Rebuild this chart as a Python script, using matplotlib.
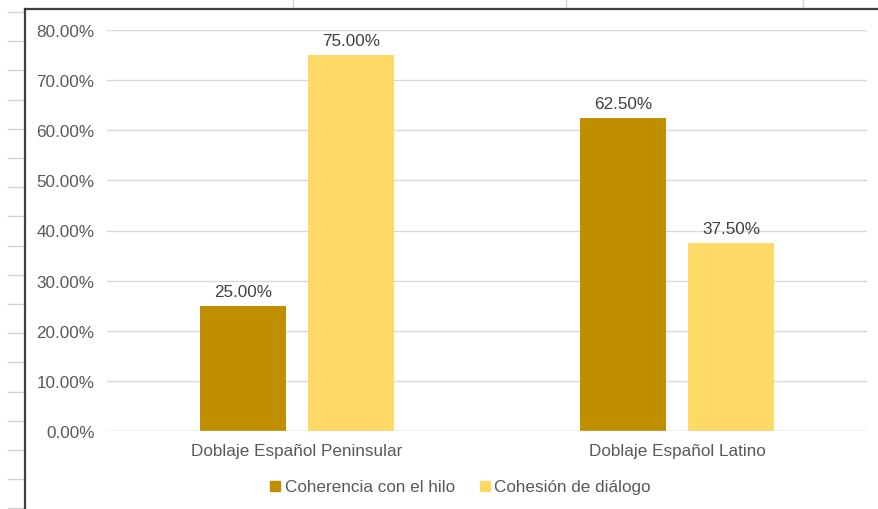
import numpy as np
import matplotlib.pyplot as plt
from matplotlib.lines import Line2D

categories = ['Doblaje Español Peninsular', 'Doblaje Español Latino']
series_names = ['Coherencia con el hilo', 'Cohesión de diálogo']
coherencia = [0.25, 0.625]
cohesion = [0.75, 0.375]
colors = ['#BF8F00', '#FFD966']

plt.rcParams['font.family'] = ['Liberation Sans', 'DejaVu Sans']
fs = 12.3

W, H = 879, 510
fig = plt.figure(figsize=(W / 100, H / 100), dpi=100)

# sheet cells behind the chart
bg = fig.add_axes([0, 0, 1, 1])
bg.set_xlim(0, W)
bg.set_ylim(H, 0)
bg.axis('off')
for y in np.arange(13, H, 29.2):
    bg.plot([8, 25], [y, y], color='#d4d4d4', lw=1)
for x in [293, 566, 803]:
    bg.plot([x, x], [0, 10], color='#d4d4d4', lw=1)
bg.plot([25, 25], [10, H], color='#404040', lw=1.6)
bg.plot([25, W], [10, 10], color='#404040', lw=1.6)

ax = fig.add_axes([107 / W, 78 / H, 760 / W, 401 / H])
x = np.arange(len(categories))
bw = 0.224
off = 0.142
b1 = ax.bar(x - off, coherencia, bw, color=colors[0], label=series_names[0])
b2 = ax.bar(x + off, cohesion, bw, color=colors[1], label=series_names[1])
for bars in (b1, b2):
    for r in bars:
        v = r.get_height()
        ax.text(r.get_x() + r.get_width() / 2, v + 0.014, f'{v * 100:.2f}%',
                ha='center', va='bottom', fontsize=fs, color='#404040')

ax.set_xlim(-0.5, 1.5)
ax.set_ylim(0, 0.8)
ax.set_yticks(np.arange(0, 0.81, 0.1))
ax.set_yticklabels([f'{t * 100:.2f}%' for t in np.arange(0, 0.81, 0.1)])
ax.set_xticks(x)
ax.set_xticklabels(categories)
ax.tick_params(axis='both', length=0, labelsize=fs, labelcolor='#595959')
ax.tick_params(axis='y', pad=9)
ax.tick_params(axis='x', pad=9)
ax.yaxis.grid(True, color='#d9d9d9', lw=1)
ax.set_axisbelow(True)
for s in ax.spines.values():
    s.set_visible(False)
ax.axhline(0, color='#d9d9d9', lw=1)

handles = [Line2D([], [], marker='s', ls='', color=c, markersize=7) for c in colors]
fig.legend(handles, series_names, loc='center', bbox_to_anchor=(459 / W, 1 - 488 / H),
           ncol=2, frameon=False, fontsize=fs, labelcolor='#595959',
           handletextpad=0.1, columnspacing=1.3, handlelength=0.9)

fig.savefig('out.png', dpi=100)
